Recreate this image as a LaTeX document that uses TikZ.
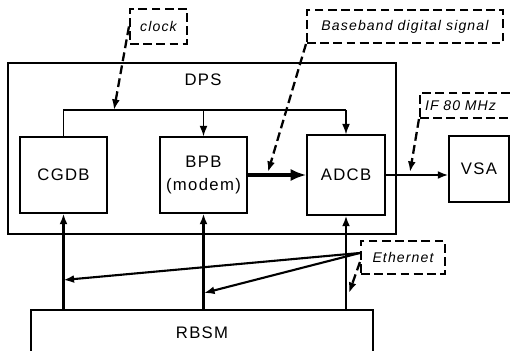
\documentclass[tikz,border=0pt]{standalone}
\usepackage{fontspec}
\setmainfont{Liberation Sans}[LetterSpace=8]
\usetikzlibrary{positioning,arrows.meta}

\begin{document}
\begin{tikzpicture}[x=0.02cm, y=-0.02cm, >={Latex[length=6pt,width=4.5pt]},
every node/.style={align=center, font=\fontsize{9.5}{13}\selectfont},
block/.style={draw, line width=0.7pt, inner sep=0pt},
note/.style={draw, line width=1.2pt, dash pattern=on 5pt off 2.5pt, inner sep=0pt,
  font=\fontsize{8}{10}\selectfont\itshape},
link/.style={->, line width=1.2pt},
hint/.style={->, line width=1.3pt, dash pattern=on 5pt off 2.5pt}]

\path[use as bounding box, clip] (0,0) rectangle (510,351);

% Outer box
\node[
block,
minimum width=7.76cm,
minimum height=3.42cm
] (dps) at (202,148.5) {};
\node (dpslabel) at (203,80) {DPS};

% Boards
\node[
block,
minimum width=1.74cm,
minimum height=1.52cm
] (cgdb) at (63.5,175) {CGDB};

\node[
block,
minimum width=1.74cm,
minimum height=1.52cm
] (bpb) at (203.5,175) {BPB\\(modem)};

\node[
block,
minimum width=1.56cm,
minimum height=1.6cm
] (adcb) at (346,175) {ADCB};

\node[
block,
minimum width=1.2cm,
minimum height=1.32cm
] (vsa) at (479,169) {VSA};

\node[
block,
minimum width=6.84cm,
minimum height=0.92cm
] (rbsm) at (202,333) {RBSM};

% Notes
\node[
note,
minimum width=1.14cm,
minimum height=0.7cm
] (clock) at (158.5,26.5) {clock};

\node[
note,
minimum width=3.92cm,
minimum height=0.66cm
] (baseband) at (405,26.5) {Baseband digital signal};

\node[
note,
align=left,
text width=1.9cm,
inner xsep=0.1cm,
minimum height=0.5cm
] (ifreq) at (472.5,105.5) {IF 80 MHz};

\node[
note,
minimum width=1.68cm,
minimum height=0.66cm
] (ethernet) at (403,257.5) {Ethernet};

% Points the notes point at
\coordinate (busR) at (346,110);
\coordinate (clkin) at (114,110);
\coordinate (bbin) at (268,172);
\coordinate (ifin) at (410,172);
\coordinate (ethA) at (63.5,280);
\coordinate (ethB) at (204,293);
\coordinate (ethC) at (349,293);

% Clock bus
\draw[line width=0.8pt] (cgdb.north) |- (busR);
\draw[line width=0.8pt, ->] (busR) -- (adcb.north);
\draw[line width=0.8pt, ->] (bpb.north |- busR) -- (bpb.north);

% Signal path
\draw[-{Latex[length=9pt,width=7pt]}, line width=1.8pt] (bpb.east) -- (adcb.west);
\draw[->, line width=1.1pt] (adcb.east) -- (adcb.east -| vsa.west);

% Control from RBSM
\draw[link] (rbsm.north -| cgdb.south) -- (cgdb.south);
\draw[link] (rbsm.north -| bpb.south) -- (bpb.south);
\draw[link] (rbsm.north -| adcb.south) -- (adcb.south);

% Ethernet
\draw[link] (ethernet.174) -- (ethA);
\draw[link] (ethernet.174) -- (ethB);

% Dashed hints
\draw[hint] (clock.west) -- (clkin);
\draw[hint] (baseband.south west) -- (bbin);
\draw[hint] (ifreq.south west) -- (ifin);
\draw[hint] (ethernet.186) -- (ethC);

\end{tikzpicture}
\end{document}
